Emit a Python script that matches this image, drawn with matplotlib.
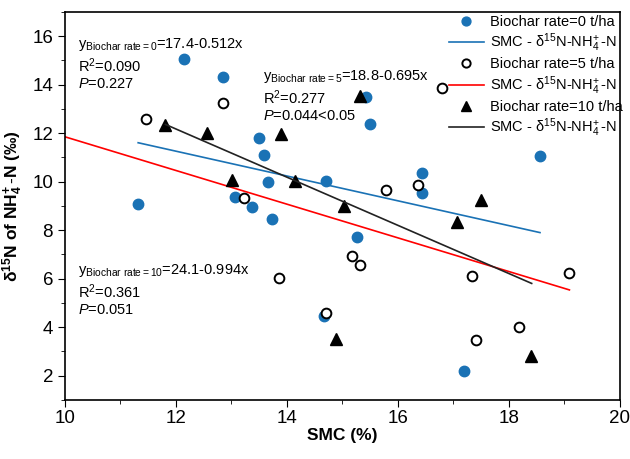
import matplotlib.pyplot as plt
from matplotlib.ticker import MultipleLocator

plt.rcParams["font.family"] = "Liberation Sans"
plt.rcParams["mathtext.fontset"] = "custom"
plt.rcParams["mathtext.rm"] = "Liberation Sans"
plt.rcParams["mathtext.it"] = "Liberation Sans:italic"
plt.rcParams["mathtext.bf"] = "Liberation Sans:bold"

# Biochar rate = 0 t/ha
x0 = [11.32, 12.14, 12.84, 13.49, 13.58, 13.66, 13.06, 13.38, 13.74, 14.70,
      15.27, 15.42, 15.50, 16.43, 16.43, 18.56, 14.67, 17.19]
y0 = [9.08, 15.06, 14.32, 11.82, 11.10, 9.98, 9.36, 8.96, 8.44, 10.02,
      7.73, 13.49, 12.38, 10.36, 9.52, 11.06, 4.44, 2.20]
# Biochar rate = 5 t/ha
x5 = [11.46, 12.85, 13.22, 16.79, 15.78, 16.36, 13.86, 14.70, 15.18, 15.32,
      17.33, 17.41, 18.18, 19.09]
y5 = [12.57, 13.25, 9.33, 13.88, 9.67, 9.84, 6.04, 4.56, 6.95, 6.58,
      6.11, 3.46, 4.01, 6.25]
# Biochar rate = 10 t/ha
x10 = [11.81, 12.56, 13.01, 13.90, 14.15, 15.02, 15.31, 17.50, 17.07, 14.89, 18.39]
y10 = [12.35, 12.00, 10.07, 11.96, 10.03, 9.00, 13.54, 9.25, 8.35, 3.50, 2.79]

# fitted lines: intercept, slope, x range
fit0 = (17.4, -0.512, [11.32, 18.56])
fit5 = (18.8, -0.695, [10.0, 19.09])
fit10 = (24.1, -0.994, [11.81, 18.41])

blue = "#1a72b5"
fs = 10.5
lab_line = r"SMC - δ$^{15}$N-NH$_4^{\!+}$-N"

fig = plt.figure(figsize=(6.3, 4.59), dpi=100)
ax = fig.add_axes([0.103, 0.129, 0.881, 0.845])

ax.plot(x0, y0, "o", color=blue, ms=7.5, linestyle="none", label="Biochar rate=0 t/ha")
xs = fit0[2]
ax.plot(xs, [fit0[0] + fit0[1] * v for v in xs], color=blue, lw=1.2, label=lab_line)
ax.plot(x5, y5, "o", mfc="white", mec="black", mew=1.4, ms=7, linestyle="none",
        label="Biochar rate=5 t/ha")
xs = fit5[2]
ax.plot(xs, [fit5[0] + fit5[1] * v for v in xs], color="red", lw=1.2, label=lab_line)
ax.plot(x10, y10, "^", color="black", ms=8.5, linestyle="none", label="Biochar rate=10 t/ha")
xs = fit10[2]
ax.plot(xs, [fit10[0] + fit10[1] * v for v in xs], color="#222222", lw=1.2, label=lab_line)

# equations
def eq(x, y, sub, eqn, r2, p):
    ax.text(x, y, r"y$_{\mathrm{Biochar\ rate=%s}}$=%s" % (sub, eqn), fontsize=fs, va="top")
    ax.text(x, y - 0.85, r"R$^2$=%s" % r2, fontsize=fs, va="top")
    ax.text(x, y - 1.7, r"$P$=%s" % p, fontsize=fs, va="top")

eq(10.23, 16.0, "0", "17.4-0.512x", "0.090", "0.227")
eq(13.57, 14.7, "5", "18.8-0.695x", "0.277", "0.044<0.05")
eq(10.23, 6.7, "10", "24.1-0.994x", "0.361", "0.051")

ax.set_xlim(10, 20)
ax.set_ylim(1, 17)
ax.xaxis.set_major_locator(MultipleLocator(2))
ax.xaxis.set_minor_locator(MultipleLocator(1))
ax.yaxis.set_major_locator(MultipleLocator(2))
ax.yaxis.set_minor_locator(MultipleLocator(1))
ax.set_yticks(range(2, 17, 2))
ax.tick_params(which="both", direction="out", labelsize=13.5)
ax.tick_params(which="major", length=5)
ax.tick_params(which="minor", length=3)
ax.tick_params(axis="x", pad=2)
for s in ax.spines.values():
    s.set_linewidth(1.2)

ax.set_xlabel("SMC (%)", fontsize=12.5, fontweight="bold", labelpad=1)
ax.set_ylabel(r"$\mathbf{δ^{15}N\ of\ NH_4^{\!+}\text{-}N\ (‰)}$", fontsize=12.5, labelpad=5)

leg = ax.legend(loc="upper right", bbox_to_anchor=(1.02, 1.015), frameon=False, fontsize=fs,
                handlelength=2.4, handletextpad=0.4, labelspacing=0.2, borderaxespad=0.2,
                markerscale=0.85)

fig.savefig("out.png", dpi=100)
